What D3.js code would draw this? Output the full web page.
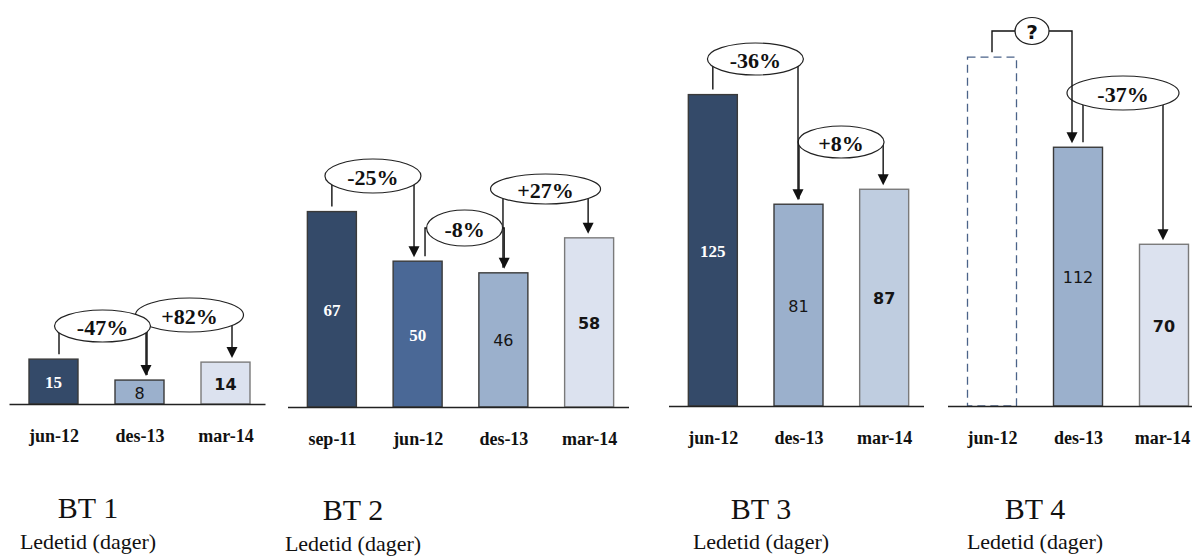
<!DOCTYPE html>
<html>
<head>
<meta charset="utf-8">
<script src="https://cdn.jsdelivr.net/npm/d3@7/dist/d3.min.js"></script>
<style>
  html, body { margin: 0; padding: 0; background: #ffffff; }
  svg { display: block; }
</style>
</head>
<body>
<svg id="chart" width="1192" height="557"></svg>
<script>
// ---- data ----------------------------------------------------------------
const panelTitles = ["BT 1", "BT 2", "BT 3", "BT 4"];
const panelSubtitle = "Ledetid (dager)";

const categoriesBT1 = ["jun-12", "des-13", "mar-14"];
const categoriesBT2 = ["sep-11", "jun-12", "des-13", "mar-14"];
const categoriesBT3 = ["jun-12", "des-13", "mar-14"];
const categoriesBT4 = ["jun-12", "des-13", "mar-14"];

const valuesBT1 = [15, 8, 14];
const valuesBT2 = [67, 50, 46, 58];
const valuesBT3 = [125, 81, 87];
// BT 4 jun-12 is not known: drawn as a dashed outline at an estimated height
const valuesBT4 = [151, 112, 70];
const knownBT4 = [false, true, true];

// change from each bar to the next one
const changesBT1 = ["-47%", "+82%"];
const changesBT2 = ["-25%", "-8%", "+27%"];
const changesBT3 = ["-36%", "+8%"];
const changesBT4 = ["?", "-37%"];

// ---- styles & layout -----------------------------------------------------
const NAVY = "#344a69", MID_BLUE = "#4a6896", STEEL = "#9bb0cc",
      PALE = "#dce2ef", LIGHT_STEEL = "#bfcde0";

const panels = [
  { cats: categoriesBT1, vals: valuesBT1, known: [true, true, true], changes: changesBT1,
    xRange: [10.5, 268.5], base: 404, yMax: 117,
    fills: [NAVY, STEEL, PALE], labelKinds: ["serifWhite", "sans", "sansBold"],
    titleX: 88, titleY: 518, subY: 549,
    notes: [ { cy: 326, rx: 48, ry: 16, dxFrom: 5.5, dxTo: 6.5 },
             { cy: 315, rx: 54, ry: 17, dxFrom: 7.5, dxTo: 6.5 } ] },
  { cats: categoriesBT2, vals: valuesBT2, known: [true, true, true, true], changes: changesBT2,
    xRange: [289, 632], base: 407, yMax: 120,
    fills: [NAVY, MID_BLUE, STEEL, PALE], labelKinds: ["serifWhite", "serifWhite", "sans", "sansBold"],
    titleX: 353, titleY: 520, subY: 551,
    notes: [ { cy: 176, rx: 48, ry: 17, dxFrom: 0, dxTo: -3.6 },
             { cy: 228, rx: 38, ry: 18, dxFrom: 7.4, dxTo: 0.8 },
             { cy: 189, rx: 55, ry: 15, dxFrom: -0.4, dxTo: -1 } ] },
  { cats: categoriesBT3, vals: valuesBT3, known: [true, true, true], changes: changesBT3,
    xRange: [670, 927], base: 406, yMax: 140.5,
    fills: [NAVY, STEEL, LIGHT_STEEL], labelKinds: ["serifWhite", "sans", "sansBold"],
    titleX: 761, titleY: 519, subY: 549,
    notes: [ { cy: 59, rx: 48, ry: 16, dxFrom: 0, dxTo: -0.5 },
             { cy: 142, rx: 43, ry: 16, dxFrom: 0.5, dxTo: -1 } ] },
  { cats: categoriesBT4, vals: valuesBT4, known: knownBT4, changes: changesBT4,
    xRange: [949, 1207], base: 406, yMax: 151.5,
    fills: ["none", STEEL, PALE], labelKinds: [null, "sans", "sansBold"],
    titleX: 1035, titleY: 519, subY: 549,
    notes: [ { cy: 31, rx: 17, ry: 13.5, dxFrom: 0, dxTo: -6, circle: true },
             { cy: 93, rx: 56, ry: 17, dxFrom: 5, dxTo: -1 } ] }
];

const BAR_W = 49;
const SERIF = "'Liberation Serif', 'Times New Roman', Times, serif";
const SANS = "'DejaVu Sans', Verdana, sans-serif";

const svg = d3.select("#chart");

panels.forEach((p, pi) => {
  const g = svg.append("g").attr("class", "panel panel-" + (pi + 1));

  const x = d3.scalePoint().domain(p.cats).range(p.xRange).padding(0.5);
  const y = d3.scaleLinear().domain([0, p.yMax]).range([p.base, p.base - 350]);

  const rows = p.cats.map((c, i) => ({
    cat: c, value: p.vals[i], known: p.known[i],
    fill: p.fills[i], kind: p.labelKinds[i]
  }));

  // bars
  g.selectAll("rect.bar").data(rows).join("rect")
    .attr("class", "bar")
    .attr("x", d => x(d.cat) - BAR_W / 2)
    .attr("y", d => y(d.value))
    .attr("width", BAR_W)
    .attr("height", d => y(0) - y(d.value))
    .attr("fill", d => d.known ? d.fill : "none")
    .attr("stroke", d => !d.known ? "#4b6389" : (d.fill === PALE || d.fill === LIGHT_STEEL ? "#7a7a7a" : "#3a3a3a"))
    .attr("stroke-width", d => d.known ? 1.4 : 1.3)
    .attr("stroke-dasharray", d => d.known ? null : "8,5");

  // value labels inside the bars
  g.selectAll("text.val").data(rows.filter(d => d.known)).join("text")
    .attr("class", "val")
    .attr("x", d => x(d.cat))
    .attr("y", d => (y(d.value) + y(0)) / 2 + 1)
    .attr("text-anchor", "middle")
    .attr("dominant-baseline", "central")
    .attr("font-family", d => d.kind === "serifWhite" ? SERIF : SANS)
    .attr("font-weight", d => d.kind === "sans" ? "normal" : "bold")
    .attr("font-size", d => d.kind === "serifWhite" ? 17 : 16)
    .attr("fill", d => d.kind === "serifWhite" ? "#ffffff" : "#151515")
    .text(d => d.value);

  // baseline
  g.append("line")
    .attr("x1", p.xRange[0] - 1).attr("x2", p.xRange[1] - 3)
    .attr("y1", p.base + 0.5).attr("y2", p.base + 0.5)
    .attr("stroke", "#222").attr("stroke-width", 1.3);

  // category axis
  const axis = d3.axisBottom(x).tickSize(0).tickPadding(0);
  const ax = g.append("g").attr("transform", `translate(0,${p.base})`).call(axis);
  ax.select(".domain").remove();
  ax.selectAll("text")
    .attr("y", 38)
    .attr("dy", 0)
    .attr("font-family", SERIF)
    .attr("font-weight", "bold")
    .attr("font-size", 18)
    .attr("fill", "#111");
  // keep the right-most label of the last panel inside the frame
  if (pi === panels.length - 1) {
    ax.selectAll(".tick").filter((d, i, n) => i === n.length - 1)
      .select("text").attr("x", -2);
  }

  // change annotations: elbow connector from one bar to the next;
  // drawn last-to-first so earlier bubbles sit on top of later ones
  const noteLayer = g.append("g").attr("class", "notes");
  p.changes.map((label, i) => ({ label, i })).reverse().forEach(({ label, i }) => {
    const n = p.notes[i];
    const a = rows[i], b = rows[i + 1];
    const xa = x(a.cat) + n.dxFrom, xb = x(b.cat) + n.dxTo;
    const ya = y(a.value) - 5, tip = y(b.value) - 4;
    const head = 11;
    const ng = noteLayer.append("g").attr("class", "note");
    ng.append("path")
      .attr("d", `M${xa},${ya}V${n.cy}H${xb}V${tip - head + 1}`)
      .attr("fill", "none").attr("stroke", "#111").attr("stroke-width", 1.4);
    ng.append("path")
      .attr("d", `M${xb - 5.5},${tip - head}L${xb + 5.5},${tip - head}L${xb},${tip}Z`)
      .attr("fill", "#111");
    const cx = (xa + xb) / 2;
    ng.append("ellipse")
      .attr("cx", cx).attr("cy", n.cy).attr("rx", n.rx).attr("ry", n.ry)
      .attr("fill", "#fff").attr("stroke", "#222").attr("stroke-width", 1.2);
    ng.append("text")
      .attr("x", cx).attr("y", n.cy + 1)
      .attr("text-anchor", "middle").attr("dominant-baseline", "central")
      .attr("font-family", n.circle ? SANS : SERIF)
      .attr("font-weight", "bold")
      .attr("font-size", n.circle ? 20 : 22)
      .attr("fill", "#111")
      .text(label);
  });

  // panel title and subtitle
  g.append("text")
    .attr("x", p.titleX).attr("y", p.titleY)
    .attr("text-anchor", "middle")
    .attr("font-family", SERIF).attr("font-size", 30).attr("fill", "#111")
    .text(panelTitles[pi]);
  g.append("text")
    .attr("x", p.titleX).attr("y", p.subY)
    .attr("text-anchor", "middle")
    .attr("font-family", SERIF).attr("font-size", 22).attr("fill", "#111")
    .text(panelSubtitle);
});
</script>
</body>
</html>
